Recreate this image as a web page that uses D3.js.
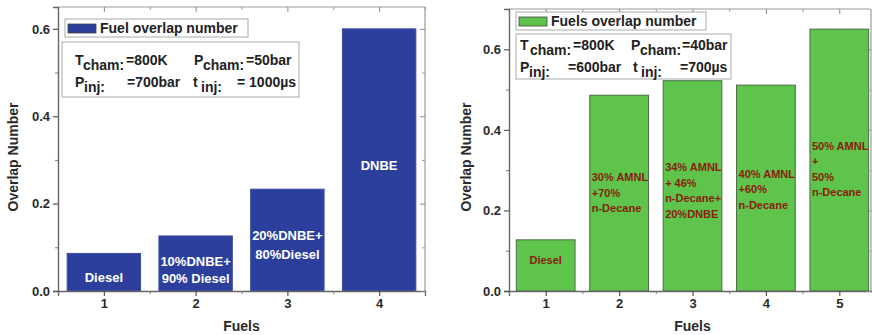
<!DOCTYPE html>
<html>
<head>
<meta charset="utf-8">
<script src="https://cdn.jsdelivr.net/npm/d3@7"></script>
<style>
  html, body { margin: 0; padding: 0; background: #fff; }
  svg { display: block; font-family: "Liberation Sans", Arial, sans-serif; font-weight: bold; }
</style>
</head>
<body>
<svg id="chart" width="872" height="335"></svg>
<script>
// ---------- DATA ----------
const leftCategories = [1, 2, 3, 4];
const leftValues = [0.086, 0.126, 0.233, 0.600];
const leftBarLabels = [["Diesel"], ["10%DNBE+", "90% Diesel"], ["20%DNBE+", "80%Diesel"], ["DNBE"]];
const leftYTicks = [0.0, 0.2, 0.4, 0.6];
const leftLegend = "Fuel overlap number";
const leftInfo = [
  [["T", "cham:", "=800K"], ["P", "cham:", "=50bar"]],
  [["P", "inj:", "=700bar"], ["t", "inj:", "= 1000µs"]]
];

const rightCategories = [1, 2, 3, 4, 5];
const rightValues = [0.127, 0.486, 0.522, 0.511, 0.650];
const rightBarLabels = [
  ["Diesel"],
  ["30% AMNL", "+70%", "n-Decane"],
  ["34% AMNL", "+ 46%", "n-Decane+", "20%DNBE"],
  ["40% AMNL", "+60%", "n-Decane"],
  ["50% AMNL", "+", "50%", "n-Decane"]
];
const rightYTicks = [0.0, 0.2, 0.4, 0.6];
const rightLegend = "Fuels overlap number";
const rightInfo = [
  [["T", "cham:", "=800K"], ["P", "cham:", "=40bar"]],
  [["P", "inj:", "=600bar"], ["t", "inj:", "=700µs"]]
];

const xAxisTitle = "Fuels";
const yAxisTitle = "Overlap Number";

// ---------- DRAW ----------
const svg = d3.select("#chart");

function panel(cfg) {
  const g = svg.append("g");
  const x = d3.scaleLinear().domain([0.5, cfg.categories.length + 0.5]).range([cfg.left, cfg.right]);
  const y = d3.scaleLinear().domain([0, cfg.yMax]).range([cfg.bottom, cfg.top]);
  const frameRight = cfg.frameRight ?? cfg.right;

  // bars
  const bw = (x(2) - x(1)) * 0.8;
  g.selectAll("rect.bar").data(cfg.values).enter().append("rect")
    .attr("class", "bar")
    .attr("x", (d, i) => x(cfg.categories[i]) - bw / 2)
    .attr("width", bw)
    .attr("y", d => y(d))
    .attr("height", d => y(0) - y(d))
    .attr("fill", cfg.barColor)
    .attr("stroke", cfg.barStroke)
    .attr("stroke-width", 1);

  // frame top/right (light)
  g.append("line").attr("x1", cfg.left).attr("x2", frameRight).attr("y1", cfg.top).attr("y2", cfg.top)
    .attr("stroke", "#9a9a9a").attr("stroke-width", 1.2);
  g.append("line").attr("x1", frameRight).attr("x2", frameRight).attr("y1", cfg.top).attr("y2", cfg.bottom)
    .attr("stroke", "#9a9a9a").attr("stroke-width", 1.2);

  // bottom axis
  const xMajor = cfg.categories;
  const xMinor = d3.range(0.5, cfg.categories.length + 0.6, 0.5).filter(v => !xMajor.includes(v));
  const axB = g.append("g").attr("transform", `translate(0,${cfg.bottom})`)
    .call(d3.axisBottom(x).tickValues(xMajor).tickSize(5).tickPadding(3).tickFormat(d3.format("d")));
  axB.select(".domain").attr("stroke", "#666").attr("stroke-width", 1.4);
  axB.selectAll(".tick line").attr("stroke", "#555").attr("stroke-width", 1.2);
  axB.selectAll(".tick text").attr("font-size", 13).attr("font-weight", "bold").attr("fill", "#2a2a2a")
    .attr("font-family", "Liberation Sans, Arial, sans-serif");
  const axBm = g.append("g").attr("transform", `translate(0,${cfg.bottom})`)
    .call(d3.axisBottom(x).tickValues(xMinor).tickSize(3).tickFormat(""));
  axBm.select(".domain").remove();
  axBm.selectAll(".tick line").attr("stroke", "#777");
  // top mirror ticks (inward)
  const axT = g.append("g").attr("transform", `translate(0,${cfg.top})`)
    .call(d3.axisBottom(x).tickValues(xMajor).tickSize(5).tickFormat(""));
  axT.select(".domain").remove();
  axT.selectAll(".tick line").attr("stroke", "#888");
  const axTm = g.append("g").attr("transform", `translate(0,${cfg.top})`)
    .call(d3.axisBottom(x).tickValues(xMinor).tickSize(3).tickFormat(""));
  axTm.select(".domain").remove();
  axTm.selectAll(".tick line").attr("stroke", "#999");

  // left axis
  const yMinor = cfg.yTicks.slice(0, -1).map((v, i) => (v + cfg.yTicks[i + 1]) / 2)
    .concat([cfg.yTicks[cfg.yTicks.length - 1] + 0.1]).filter(v => v < cfg.yMax);
  const axL = g.append("g").attr("transform", `translate(${cfg.left},0)`)
    .call(d3.axisLeft(y).tickValues(cfg.yTicks).tickSize(5).tickPadding(3).tickFormat(d3.format(".1f")));
  axL.select(".domain").attr("stroke", "#666").attr("stroke-width", 1.4);
  axL.selectAll(".tick line").attr("stroke", "#555").attr("stroke-width", 1.2);
  axL.selectAll(".tick text").attr("font-size", 13).attr("font-weight", "bold").attr("fill", "#2a2a2a")
    .attr("font-family", "Liberation Sans, Arial, sans-serif");
  const axLm = g.append("g").attr("transform", `translate(${cfg.left},0)`)
    .call(d3.axisLeft(y).tickValues(yMinor).tickSize(3).tickFormat(""));
  axLm.select(".domain").remove();
  axLm.selectAll(".tick line").attr("stroke", "#777");
  // right mirror ticks (inward)
  const axR = g.append("g").attr("transform", `translate(${frameRight},0)`)
    .call(d3.axisRight(y).tickValues(cfg.yTicks).tickSize(-5).tickFormat(""));
  axR.select(".domain").remove();
  axR.selectAll(".tick line").attr("stroke", "#888");
  const axRm = g.append("g").attr("transform", `translate(${frameRight},0)`)
    .call(d3.axisRight(y).tickValues(yMinor).tickSize(-3).tickFormat(""));
  axRm.select(".domain").remove();
  axRm.selectAll(".tick line").attr("stroke", "#999");

  // axis titles
  g.append("text").attr("x", (cfg.left + cfg.right) / 2).attr("y", 331)
    .attr("text-anchor", "middle").attr("font-size", 14).attr("fill", "#2a2a2a").text(xAxisTitle);
  g.append("text").attr("transform", `translate(${cfg.yTitleX},${cfg.yTitleY}) rotate(-90)`)
    .attr("text-anchor", "middle").attr("font-size", 14).attr("fill", "#2a2a2a").text(yAxisTitle);

  // bar labels
  cfg.labels.forEach((lines, i) => {
    const lay = cfg.labelLayout[i];
    const t = g.append("text")
      .attr("font-size", cfg.labelSize).attr("fill", cfg.labelColor)
      .attr("text-anchor", lay.anchor);
    const cx = lay.anchor === "middle" ? x(cfg.categories[i]) : x(cfg.categories[i]) - bw / 2 + 2;
    lines.forEach((ln, j) => {
      t.append("tspan").attr("x", cx).attr("y", y(lay.v) + j * lay.step).text(ln);
    });
  });

  // legend
  const L = cfg.legend;
  g.append("rect").attr("x", L.x).attr("y", L.y).attr("width", L.w).attr("height", L.h)
    .attr("fill", "#fff").attr("stroke", "#aaa").attr("stroke-width", 1);
  g.append("rect").attr("x", L.x + 3).attr("y", L.y + 5).attr("width", 28).attr("height", 9)
    .attr("fill", cfg.barColor).attr("stroke", "#444").attr("stroke-width", 0.8);
  g.append("text").attr("x", L.x + 35).attr("y", L.y + 14).attr("font-size", 14).attr("fill", "#222")
    .text(cfg.legendText);

  // info box
  const I = cfg.info;
  g.append("rect").attr("x", I.x).attr("y", I.y).attr("width", I.w).attr("height", I.h)
    .attr("fill", "#fff").attr("stroke", "#aaa").attr("stroke-width", 1);
  cfg.infoText.forEach((row, r) => {
    row.forEach((cell, c) => {
      const pos = I.cols[r][c];
      const base = I.baselines[r];
      g.append("text").attr("x", pos[0]).attr("y", base).attr("font-size", 14).attr("fill", "#222").text(cell[0]);
      g.append("text").attr("x", pos[1]).attr("y", base + 5).attr("font-size", 14).attr("fill", "#222").text(cell[1]);
      g.append("text").attr("x", pos[2]).attr("y", base).attr("font-size", 14).attr("fill", "#222").text(cell[2]);
    });
  });
}

panel({
  categories: leftCategories, values: leftValues, labels: leftBarLabels, yTicks: leftYTicks,
  legendText: leftLegend, infoText: leftInfo,
  left: 58, right: 425, top: 7, bottom: 291, yMax: 0.65,
  barColor: "#2c3f9c", barStroke: "#3a4ca8",
  labelColor: "#ffffff", labelSize: 13,
  labelLayout: [
    { v: 0.0205, step: 17, anchor: "middle" },
    { v: 0.057, step: 17, anchor: "middle" },
    { v: 0.1165, step: 19, anchor: "middle" },
    { v: 0.276, step: 17, anchor: "middle" }
  ],
  yTitleX: 18, yTitleY: 157,
  legend: { x: 65, y: 19, w: 183, h: 18 },
  info: { x: 62, y: 42, w: 237, h: 55,
    baselines: [64.5, 86.5],
    cols: [[[75, 83, 126], [194, 203, 246]], [[75, 84, 127], [193, 201, 237]]] }
});

panel({
  categories: rightCategories, values: rightValues, labels: rightBarLabels, yTicks: rightYTicks,
  legendText: rightLegend, infoText: rightInfo,
  left: 509, right: 876, frameRight: 871, top: 9, bottom: 291, yMax: 0.7,
  barColor: "#5ec44c", barStroke: "#4a6e44",
  labelColor: "#8a1c10", labelSize: 11,
  labelLayout: [
    { v: 0.067, step: 15.5, anchor: "middle" },
    { v: 0.273, step: 15.5, anchor: "start" },
    { v: 0.2975, step: 15.5, anchor: "start" },
    { v: 0.281, step: 15.5, anchor: "start" },
    { v: 0.351, step: 15.5, anchor: "start" }
  ],
  yTitleX: 471, yTitleY: 157,
  legend: { x: 516, y: 12, w: 190, h: 18 },
  info: { x: 516, y: 34, w: 215, h: 45,
    baselines: [50, 71.5],
    cols: [[[520, 530, 573], [631, 640, 682]], [[520, 529, 568], [633, 641, 680]]] }
});
</script>
</body>
</html>
